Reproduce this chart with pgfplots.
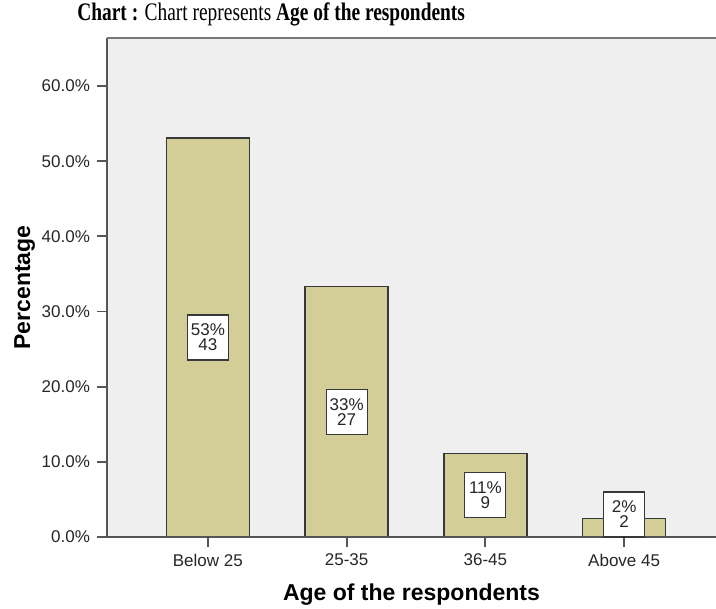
\documentclass[border=0pt]{standalone}
\usepackage{pgfplots}
\pgfplotsset{compat=1.18}
\usepackage{pgfplotstable}
\usepackage{graphicx}
\usepackage{fontspec}
\setmainfont{Liberation Sans}
\newfontfamily\serif{Liberation Serif}
\definecolor{barfill}{HTML}{D3CE98}
\definecolor{bgfill}{HTML}{EFEFEF}
\definecolor{edge}{HTML}{383838}
\definecolor{axisgray}{HTML}{555555}

\pgfplotstableread{
x val
0 53.1
1 33.3
2 11.1
3 2.5
}\bars

\pgfplotstableread{
x ypos pct n
0 26.55 53 43
1 16.65 33 27
2 5.55 11 9
3 3.0 2 2
}\labels

\begin{document}
\begin{tikzpicture}
\begin{axis}[
  scale only axis,
  width=304.5pt, height=249.5pt,
  xmin=-0.727, xmax=3.662,
  ymin=0, ymax=66.4,
  axis background/.style={fill=bgfill},
  axis line style={draw=none},
  xtick={0,1,2,3},
  xticklabels={Below 25,25-35,36-45,Above 45},
  ytick={0,10,20,30,40,50,60},
  yticklabel={\pgfmathprintnumber[fixed,fixed zerofill,precision=1]{\tick}\%},
  /pgf/number format/assume math mode=true,
  tick align=outside,
  xtick pos=bottom, ytick pos=left,
  major tick length=5pt,
  tick style={axisgray, line width=0.9pt},
  ticklabel style={font=\fontsize{8.5}{10}\selectfont, text=black!85},
  xlabel={Age of the respondents},
  ylabel={Percentage},
  xlabel style={at={(axis description cs:0.5,-0.1263)}, anchor=base, font=\fontsize{11.5}{13}\selectfont\bfseries},
  ylabel style={at={(axis description cs:-0.1264,0.5)}, anchor=base, font=\fontsize{11.5}{13}\selectfont\bfseries},
  title={\scalebox{1}[1.3]{\serif\fontsize{9.7}{11}\selectfont\textbf{Chart :} Chart represents \textbf{Age of the respondents}}},
  title style={at={(axis description cs:-0.0493,1.012)}, anchor=base west, inner sep=0pt},
  clip=false,
]
\addplot[ybar, bar width=41.5pt, fill=barfill, draw=edge, line width=0.7pt] table[x=x,y=val]{\bars};
\addplot[only marks, mark=none,
  point meta=explicit,
  visualization depends on={\thisrow{n} \as \nv},
  nodes near coords={\pgfmathprintnumber[fixed,precision=0]{\pgfplotspointmeta}\%\\\pgfmathprintnumber[fixed,precision=0]{\nv}},
  nodes near coords align={center},
  every node near coord/.append style={anchor=center, draw=edge, fill=white, line width=0.6pt,
    minimum width=20.5pt, minimum height=22.5pt, inner sep=1pt, align=center,
    font=\fontsize{8.5}{7.5}\selectfont, text=black!85},
] table[x=x,y=ypos,meta=pct]{\labels};
\draw[axisgray, line width=1pt] (rel axis cs:0,1) -- (rel axis cs:0,0) -- (rel axis cs:1,0);
\draw[axisgray!80, line width=0.8pt] (rel axis cs:0,1) -- (rel axis cs:1,1);
\coordinate (O) at (rel axis cs:0,0);
\end{axis}
\pgfresetboundingbox
\useasboundingbox (O) ++(-53.5pt,-36pt) rectangle ++(358pt,304.5pt);
\end{tikzpicture}
\end{document}
